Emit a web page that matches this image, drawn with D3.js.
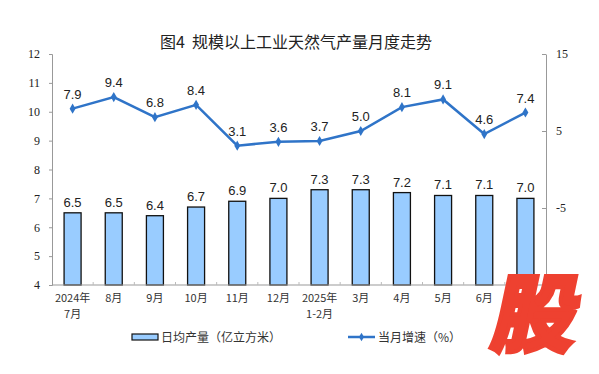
<!DOCTYPE html>
<html>
<head>
<meta charset="utf-8">
<script src="https://cdn.jsdelivr.net/npm/d3@7"></script>
<style>
  body { margin: 0; background: #fff; }
  svg { display: block; }
</style>
</head>
<body>
<div id="chart"></div>
<script>
// data
const months = ["2024年\n7月", "8月", "9月", "10月", "11月", "12月", "2025年\n1-2月", "3月", "4月", "5月", "6月", "7月"];
const dailyOutput = [6.5, 6.5, 6.4, 6.7, 6.9, 7.0, 7.3, 7.3, 7.2, 7.1, 7.1, 7.0];
const growthRate = [7.9, 9.4, 6.8, 8.4, 3.1, 3.6, 3.7, 5.0, 8.1, 9.1, 4.6, 7.4];
const leftTicks = [4, 5, 6, 7, 8, 9, 10, 11, 12];
const rightTicks = [-15, -5, 5, 15];

const W = 599, H = 374;
const margin = {top: 54, right: 53, bottom: 89, left: 52};
const plotW = W - margin.left - margin.right;
const plotH = H - margin.top - margin.bottom;

const svg = d3.select("#chart").append("svg")
    .attr("width", W)
    .attr("height", H);

// title
svg.append("text")
    .attr("x", 296)
    .attr("y", 48)
    .attr("text-anchor", "middle")
    .attr("xml:space", "preserve")
    .style("white-space", "pre")
    .style("font-family", "'Noto Sans CJK SC', sans-serif")
    .style("font-size", "16px")
    .style("fill", "#222")
    .text("图4  规模以上工业天然气产量月度走势");

const g = svg.append("g")
    .attr("transform", "translate(" + margin.left + "," + margin.top + ")");

const x = d3.scaleBand()
    .domain(months)
    .range([0, plotW])
    .paddingInner(0)
    .paddingOuter(0);

const yLeft = d3.scaleLinear().domain([4, 12]).range([plotH, 0]);
const yRight = d3.scaleLinear().domain([-15, 15]).range([plotH, 0]);

const barW = 17;

// bars
g.selectAll(".bar")
    .data(dailyOutput)
    .enter().append("rect")
    .attr("class", "bar")
    .attr("x", (d, i) => x(months[i]) + x.bandwidth() / 2 - barW / 2)
    .attr("width", barW)
    .attr("y", d => yLeft(d))
    .attr("height", d => plotH - yLeft(d))
    .attr("fill", "#99ccff")
    .attr("stroke", "#111")
    .attr("stroke-width", 1.3);

// bar labels
g.selectAll(".barLabel")
    .data(dailyOutput)
    .enter().append("text")
    .attr("x", (d, i) => x(months[i]) + x.bandwidth() / 2)
    .attr("y", d => yLeft(d) - 6)
    .attr("text-anchor", "middle")
    .style("font-family", "'Liberation Sans', Arial, sans-serif")
    .style("font-size", "13px")
    .style("fill", "#222")
    .text(d => d.toFixed(1));

// left axis
const axL = g.append("g")
    .call(d3.axisLeft(yLeft).tickValues(leftTicks).tickSize(3).tickPadding(9));
axL.select(".domain").attr("stroke", "#999");
axL.selectAll(".tick line").attr("stroke", "#999");
axL.selectAll("text")
    .style("font-family", "'Liberation Serif', 'Times New Roman', serif")
    .style("font-size", "12px")
    .style("fill", "#222");

// right axis
const axR = g.append("g")
    .attr("transform", "translate(" + plotW + ",0)")
    .call(d3.axisRight(yRight).tickValues(rightTicks).tickFormat(d => String(d)).tickSize(0).tickPadding(10));
axR.select(".domain").attr("stroke", "#999");
axR.selectAll(".tick").append("line")
    .attr("x1", -4).attr("x2", 0)
    .attr("stroke", "#999");
axR.selectAll("text")
    .style("font-family", "'Liberation Serif', 'Times New Roman', serif")
    .style("font-size", "12px")
    .style("fill", "#222");

// bottom axis
g.append("line")
    .attr("x1", 0).attr("x2", plotW)
    .attr("y1", plotH).attr("y2", plotH)
    .attr("stroke", "#999");
g.selectAll(".xTick")
    .data(months.slice(1))
    .enter().append("line")
    .attr("x1", d => x(d)).attr("x2", d => x(d))
    .attr("y1", plotH - 3).attr("y2", plotH)
    .attr("stroke", "#bbb");

const xLab = g.selectAll(".xLabel")
    .data(months)
    .enter().append("text")
    .attr("text-anchor", "middle")
    .attr("transform", d => "translate(" + (x(d) + x.bandwidth() / 2) + "," + (plotH + 17) + ")")
    .style("font-family", "'Noto Sans CJK SC', sans-serif")
    .style("font-size", "11px")
    .style("fill", "#333");
xLab.each(function(d) {
    const lines = d.split("\n");
    const t = d3.select(this);
    lines.forEach((s, k) => {
        t.append("tspan").attr("x", 0).attr("dy", k === 0 ? 0 : 16).text(s);
    });
});

// line
const line = d3.line()
    .x((d, i) => x(months[i]) + x.bandwidth() / 2)
    .y(d => yRight(d));

g.append("path")
    .datum(growthRate)
    .attr("d", line)
    .attr("fill", "none")
    .attr("stroke", "#2f74c8")
    .attr("stroke-width", 2.5);

g.selectAll(".marker")
    .data(growthRate)
    .enter().append("path")
    .attr("d", d3.symbol().type(d3.symbolDiamond).size(30))
    .attr("transform", (d, i) => "translate(" + (x(months[i]) + x.bandwidth() / 2) + "," + yRight(d) + ")")
    .attr("fill", "#2f74c8");

g.selectAll(".lineLabel")
    .data(growthRate)
    .enter().append("text")
    .attr("x", (d, i) => x(months[i]) + x.bandwidth() / 2)
    .attr("y", d => yRight(d) - 10)
    .attr("text-anchor", "middle")
    .style("font-family", "'Liberation Sans', Arial, sans-serif")
    .style("font-size", "13px")
    .style("fill", "#222")
    .text(d => d.toFixed(1));

// legend
const leg = svg.append("g").attr("transform", "translate(0,337)");
leg.append("rect")
    .attr("x", 132).attr("y", -3)
    .attr("width", 26).attr("height", 6)
    .attr("fill", "#99ccff")
    .attr("stroke", "#111")
    .attr("stroke-width", 1.2);
leg.append("text")
    .attr("x", 161).attr("y", 4.5)
    .style("font-family", "'Noto Sans CJK SC', sans-serif")
    .style("font-size", "12px")
    .style("fill", "#333")
    .text("日均产量（亿立方米）");
leg.append("line")
    .attr("x1", 348).attr("x2", 375)
    .attr("y1", 0).attr("y2", 0)
    .attr("stroke", "#2f74c8")
    .attr("stroke-width", 2.5);
leg.append("path")
    .attr("d", d3.symbol().type(d3.symbolDiamond).size(22))
    .attr("transform", "translate(361.5,0)")
    .attr("fill", "#2f74c8");
leg.append("text")
    .attr("x", 378).attr("y", 4.5)
    .style("font-family", "'Noto Sans CJK SC', sans-serif")
    .style("font-size", "12px")
    .style("fill", "#333")
    .text("当月增速（%）");

// watermark
svg.append("text")
    .attr("transform", "translate(531,345) skewX(-12)")
    .attr("text-anchor", "middle")
    .style("font-family", "'Noto Sans CJK SC', sans-serif")
    .style("font-weight", "900")
    .style("font-size", "84px")
    .style("fill", "#ee4130")
    .style("stroke", "#ee4130")
    .style("stroke-width", "4px")
    .style("stroke-linejoin", "miter")
    .text("股");
</script>
</body>
</html>
